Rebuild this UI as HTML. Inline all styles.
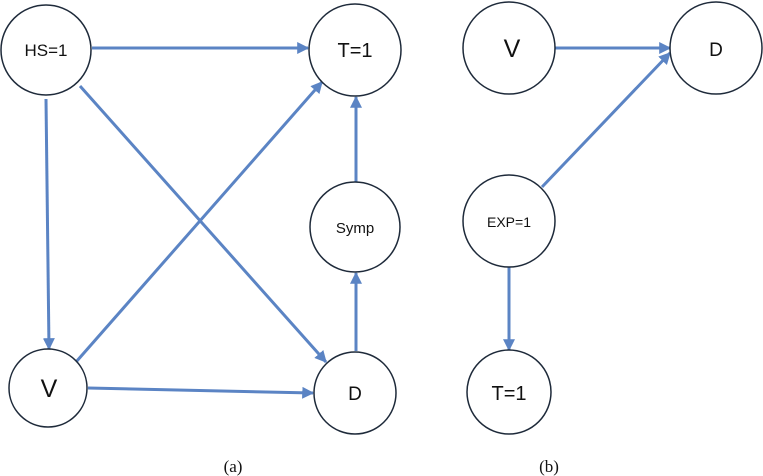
<!DOCTYPE html>
<html><head><meta charset="utf-8"><style>
html,body{margin:0;padding:0;background:#fff;width:763px;height:476px;overflow:hidden}
text{font-family:"Liberation Sans",sans-serif;fill:#111}
</style></head><body>
<svg width="763" height="476" viewBox="0 0 763 476" xmlns="http://www.w3.org/2000/svg">
<defs><marker id="a" viewBox="0 0 10 10" refX="9" refY="5" markerWidth="4" markerHeight="4" orient="auto"><path d="M0,0L10,5L0,10z" fill="#5b84c4"/></marker></defs>
<g stroke="#5b84c4" stroke-width="3" fill="none" marker-end="url(#a)">
<line x1="92" y1="48" x2="308" y2="48"/>
<line x1="46" y1="99" x2="49" y2="349"/>
<line x1="80" y1="86" x2="326" y2="362"/>
<line x1="76" y1="362" x2="322" y2="82"/>
<line x1="88" y1="388" x2="313" y2="393"/>
<line x1="356" y1="351" x2="356" y2="273"/>
<line x1="356" y1="182" x2="356" y2="97"/>
<line x1="555" y1="48" x2="670" y2="48"/>
<line x1="542" y1="187" x2="670" y2="53"/>
<line x1="509" y1="267" x2="509" y2="350"/>
</g>
<g stroke="#1e2a3a" stroke-width="1.5" fill="#fff">
<circle cx="46" cy="50" r="45"/>
<circle cx="355" cy="50" r="46"/>
<circle cx="355" cy="227" r="45"/>
<circle cx="48" cy="388" r="39"/>
<circle cx="355" cy="393" r="41"/>
<circle cx="509" cy="48" r="46"/>
<circle cx="716" cy="48" r="46"/>
<circle cx="509" cy="221" r="46"/>
<circle cx="509" cy="392" r="42"/>
</g>
<g text-anchor="middle">
<text x="46" y="56" font-size="17">HS=1</text>
<text x="355" y="57" font-size="20">T=1</text>
<text x="355" y="233" font-size="15">Symp</text>
<text x="49" y="397" font-size="25">V</text>
<text x="355" y="400" font-size="19">D</text>
<text x="512" y="57" font-size="25">V</text>
<text x="716" y="56" font-size="19">D</text>
<text x="509" y="227" font-size="14">EXP=1</text>
<text x="509" y="400" font-size="20">T=1</text>
<text x="233" y="472" font-size="17" style="font-family:'Liberation Serif',serif">(a)</text>
<text x="549" y="472" font-size="17" style="font-family:'Liberation Serif',serif">(b)</text>
</g>
</svg>
</body></html>
